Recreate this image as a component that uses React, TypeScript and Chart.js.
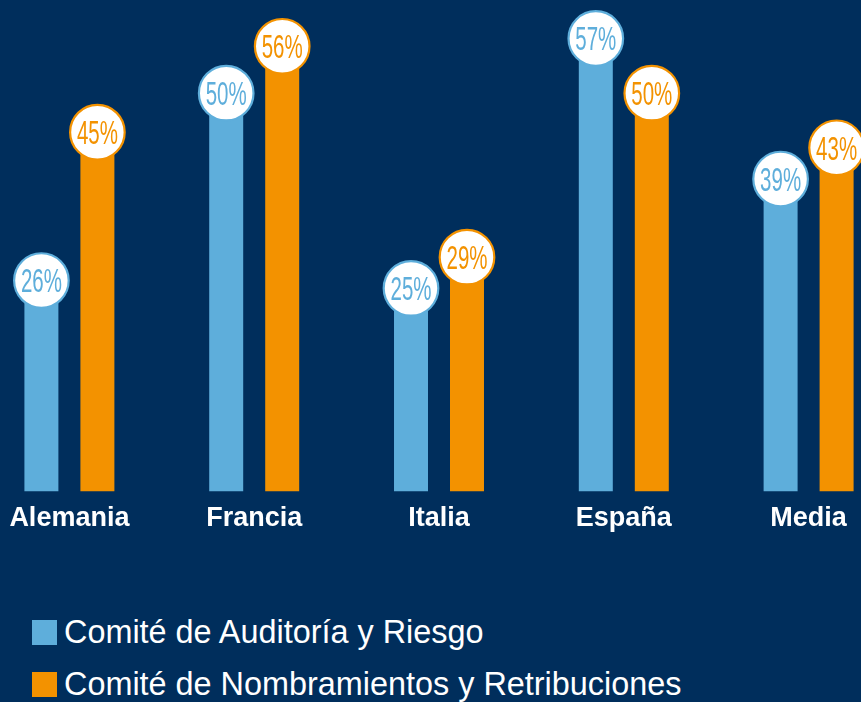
import React, { useEffect, useRef } from "react";
import { Chart, registerables } from "chart.js";

Chart.register(...registerables);

const categories = ["Alemania", "Francia", "Italia", "España", "Media"];
const auditoria = [26, 50, 25, 57, 39];
const nombramientos = [45, 56, 29, 50, 43];
const seriesNames = [
  "Comité de Auditoría y Riesgo",
  "Comité de Nombramientos y Retribuciones",
];

const BG = "#002e5c";
const BLUE = "#5eaedb";
const ORANGE = "#f39200";

const bubblePlugin = {
  id: "bubbles",
  afterDatasetsDraw(chart: any) {
    const ctx = chart.ctx;
    chart.data.datasets.forEach((ds: any, di: number) => {
      const meta = chart.getDatasetMeta(di);
      meta.data.forEach((el: any, i: number) => {
        const cx = el.x;
        const cy = el.y - 8;
        const r = 27.3;
        ctx.save();
        ctx.beginPath();
        ctx.arc(cx, cy, r, 0, Math.PI * 2);
        ctx.fillStyle = "#ffffff";
        ctx.fill();
        ctx.lineWidth = 2.2;
        ctx.strokeStyle = ds.backgroundColor;
        ctx.stroke();
        const txt = ds.data[i] + "%";
        ctx.font = '33px "Liberation Sans Narrow", "Liberation Sans", sans-serif';
        const w = ctx.measureText(txt).width;
        const sx = 41 / w;
        ctx.translate(cx, cy + 11.8);
        ctx.scale(sx, 1);
        ctx.textAlign = "center";
        ctx.textBaseline = "alphabetic";
        ctx.fillStyle = ds.backgroundColor;
        ctx.fillText(txt, 0, 0);
        ctx.restore();
      });
    });
  },
};

export default function App() {
  const ref = useRef<HTMLCanvasElement | null>(null);
  useEffect(() => {
    if (!ref.current) return;
    const chart = new Chart(ref.current, {
      type: "bar",
      data: {
        labels: categories,
        datasets: [
          {
            label: seriesNames[0],
            data: auditoria,
            backgroundColor: BLUE,
            categoryPercentage: 0.606,
            barPercentage: 0.607,
          },
          {
            label: seriesNames[1],
            data: nombramientos,
            backgroundColor: ORANGE,
            categoryPercentage: 0.606,
            barPercentage: 0.607,
          },
        ],
      },
      options: {
        responsive: false,
        animation: false,
        layout: { padding: 0 },
        plugins: {
          legend: { display: false },
          tooltip: { enabled: false },
        },
        scales: {
          x: {
            grid: { display: false, drawTicks: false },
            border: { display: false },
            ticks: {
              color: "#ffffff",
              padding: 11,
              font: { family: '"Liberation Sans", Arial, sans-serif', size: 27, weight: "bold" },
            },
          },
          y: {
            display: false,
            min: 0,
            max: 62.95,
          },
        },
      },
      plugins: [bubblePlugin],
    });
    return () => chart.destroy();
  }, []);

  return (
    <div
      style={{
        position: "fixed",
        left: 0,
        top: 0,
        width: 861,
        height: 702,
        background: BG,
        overflow: "hidden",
        fontFamily: '"Liberation Sans", Arial, sans-serif',
      }}
    >
      <canvas
        ref={ref}
        width={924}
        height={546}
        style={{ position: "absolute", left: -23, top: 0, width: 924, height: 546 }}
      />
      {seriesNames.map((name, i) => (
        <div
          key={name}
          style={{
            position: "absolute",
            left: 32,
            top: 620 + i * 52,
            display: "flex",
            alignItems: "center",
            whiteSpace: "nowrap",
          }}
        >
          <span
            style={{
              display: "inline-block",
              width: 25,
              height: 25,
              background: i === 0 ? BLUE : ORANGE,
              marginRight: 7,
            }}
          />
          <span style={{ color: "#ffffff", fontSize: 32.4, lineHeight: "25px" }}>{name}</span>
        </div>
      ))}
    </div>
  );
}
